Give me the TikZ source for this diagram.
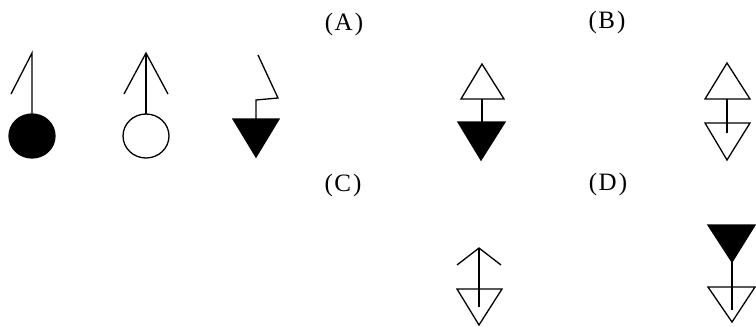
\documentclass[tikz,border=0pt]{standalone}
\usepackage{fontspec}
\setmainfont{Liberation Serif}
\tikzset{
  sym/.style={line width=1.3pt, line join=miter},
  lbl/.style={font=\fontsize{25}{28}\selectfont, inner sep=0pt}
}
\newcommand{\plab}[1]{(\kern1.5pt #1\kern2pt)}
\begin{document}
\begin{tikzpicture}[x=1pt,y=-1pt]
\useasboundingbox (0,0) rectangle (756,327);
% labels
\node[lbl] (la) at (344,24) {\plab{A}};
\node[lbl] (lb) at (607,22) {\plab{B}};
\node[lbl] (lc) at (343,185) {\plab{C}};
\node[lbl] (ld) at (608,184) {\plab{D}};
% symbol 1: filled circle with half arrow
\filldraw[sym] (32,136) ellipse [x radius=23, y radius=22];
\draw[sym] (32,114) -- (32,53) -- (11,94);
% symbol 2: open circle with arrow
\draw[sym] (146,136) ellipse [x radius=23, y radius=22];
\draw[sym] (146,114) -- (146,53);
\draw[sym] (124,94) -- (146,53) -- (168,94);
% symbol 3: filled triangle with zigzag
\filldraw[sym] (233,119) -- (279,119) -- (256,157) -- cycle;
\draw[sym] (256,119) -- (256,100) -- (278,98) -- (258,55);
% (B) left: open up-triangle over filled down-triangle
\draw[sym] (482,64) -- (504,99) -- (461,99) -- cycle;
\draw[sym] (482,99) -- (482,122);
\filldraw[sym] (458,122) -- (505,122) -- (481,160) -- cycle;
% (B) right: open up-triangle over open down-triangle
\draw[sym] (727,63) -- (750,99) -- (705,99) -- cycle;
\draw[sym] (727,99) -- (727,133);
\draw[sym] (705,123) -- (750,123) -- (727,160) -- cycle;
% (C)
\draw[sym] (457,265) -- (479,248) -- (501,265);
\draw[sym] (479,248) -- (479,307);
\draw[sym] (457,289) -- (502,289) -- (479,325) -- cycle;
% (D)
\filldraw[sym] (708,225) -- (755,225) -- (732,262) -- cycle;
\draw[sym] (732,262) -- (732,310);
\draw[sym] (708,287) -- (755,287) -- (732,322) -- cycle;
\end{tikzpicture}
\end{document}
